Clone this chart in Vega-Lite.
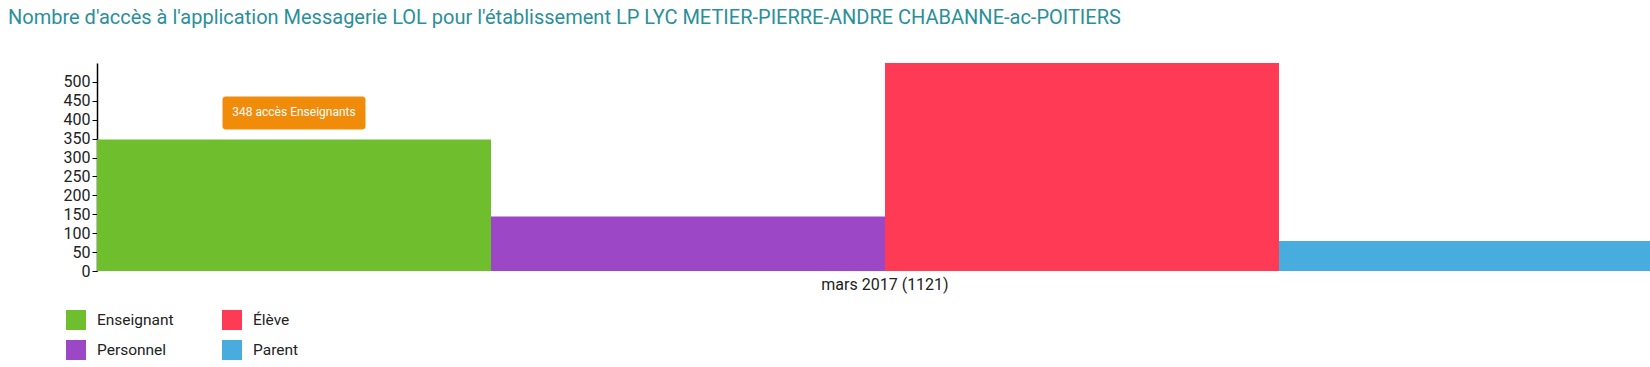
{
  "$schema": "https://vega.github.io/schema/vega-lite/v6.json",
  "autosize": "none",
  "padding": {"left": 97, "top": 63, "right": 0, "bottom": 96},
  "width": 1576,
  "height": 208,
  "background": "white",
  "title": {
    "text": "Nombre d'accès à l'application Messagerie LOL pour l'établissement LP LYC METIER-PIERRE-ANDRE CHABANNE-ac-POITIERS",
    "anchor": "start",
    "frame": "group",
    "font": "Roboto",
    "fontSize": 20,
    "fontWeight": "normal",
    "color": "#2A8F99",
    "dx": -89,
    "offset": 35
  },
  "config": {
    "view": {"stroke": null},
    "font": "Roboto"
  },
  "data": {
    "values": [
      {"mois": "mars 2017 (1121)", "profil": "Enseignant", "acces": 348},
      {"mois": "mars 2017 (1121)", "profil": "Personnel", "acces": 144},
      {"mois": "mars 2017 (1121)", "profil": "Élève", "acces": 550},
      {"mois": "mars 2017 (1121)", "profil": "Parent", "acces": 79}
    ]
  },
  "encoding": {
    "x": {
      "field": "mois",
      "type": "nominal",
      "scale": {"paddingInner": 0, "paddingOuter": 0},
      "axis": {
        "title": null,
        "domain": false,
        "ticks": false,
        "labelAngle": 0,
        "labelFontSize": 16,
        "labelColor": "#222222",
        "labelPadding": 5
      }
    },
    "xOffset": {
      "field": "profil",
      "type": "nominal",
      "scale": {"domain": ["Enseignant", "Personnel", "Élève", "Parent"], "paddingInner": 0, "paddingOuter": 0}
    },
    "y": {
      "field": "acces",
      "type": "quantitative",
      "scale": {"domain": [0, 550], "nice": false, "zero": true},
      "axis": {
        "title": null,
        "grid": false,
        "values": [0, 50, 100, 150, 200, 250, 300, 350, 400, 450, 500],
        "labelOverlap": false,
        "domainColor": "#000000",
        "domainWidth": 1.5,
        "tickColor": "#000000",
        "tickSize": 5,
        "labelFontSize": 16,
        "labelColor": "#222222",
        "labelPadding": 2
      }
    }
  },
  "layer": [
    {
      "mark": {"type": "bar"},
      "encoding": {
        "color": {
          "field": "profil",
          "type": "nominal",
          "scale": {
            "domain": ["Enseignant", "Personnel", "Élève", "Parent"],
            "range": ["#6FBE2E", "#9C47C6", "#FF3A54", "#49ACDF"]
          },
          "legend": {
            "title": null,
            "orient": "none",
            "legendX": -31,
            "legendY": 247,
            "columns": 2,
            "symbolType": "square",
            "symbolSize": 400,
            "symbolStrokeWidth": 0,
            "symbolOpacity": 1,
            "labelFontSize": 15.5,
            "labelColor": "#222222",
            "labelOffset": 11,
            "rowPadding": 10,
            "columnPadding": 48
          }
        }
      }
    },
    {
      "transform": [{"filter": "datum.profil === 'Enseignant'"}],
      "mark": {"type": "bar", "color": "#F08C0A", "width": 143, "cornerRadius": 3, "yOffset": -43, "y2Offset": -10},
      "encoding": {
        "y2": {"field": "acces"}
      }
    },
    {
      "transform": [{"filter": "datum.profil === 'Enseignant'"}],
      "mark": {"type": "text", "color": "white", "fontSize": 12, "dy": -27, "baseline": "middle", "align": "center"},
      "encoding": {
        "text": {"value": "348 accès Enseignants"}
      }
    }
  ]
}
